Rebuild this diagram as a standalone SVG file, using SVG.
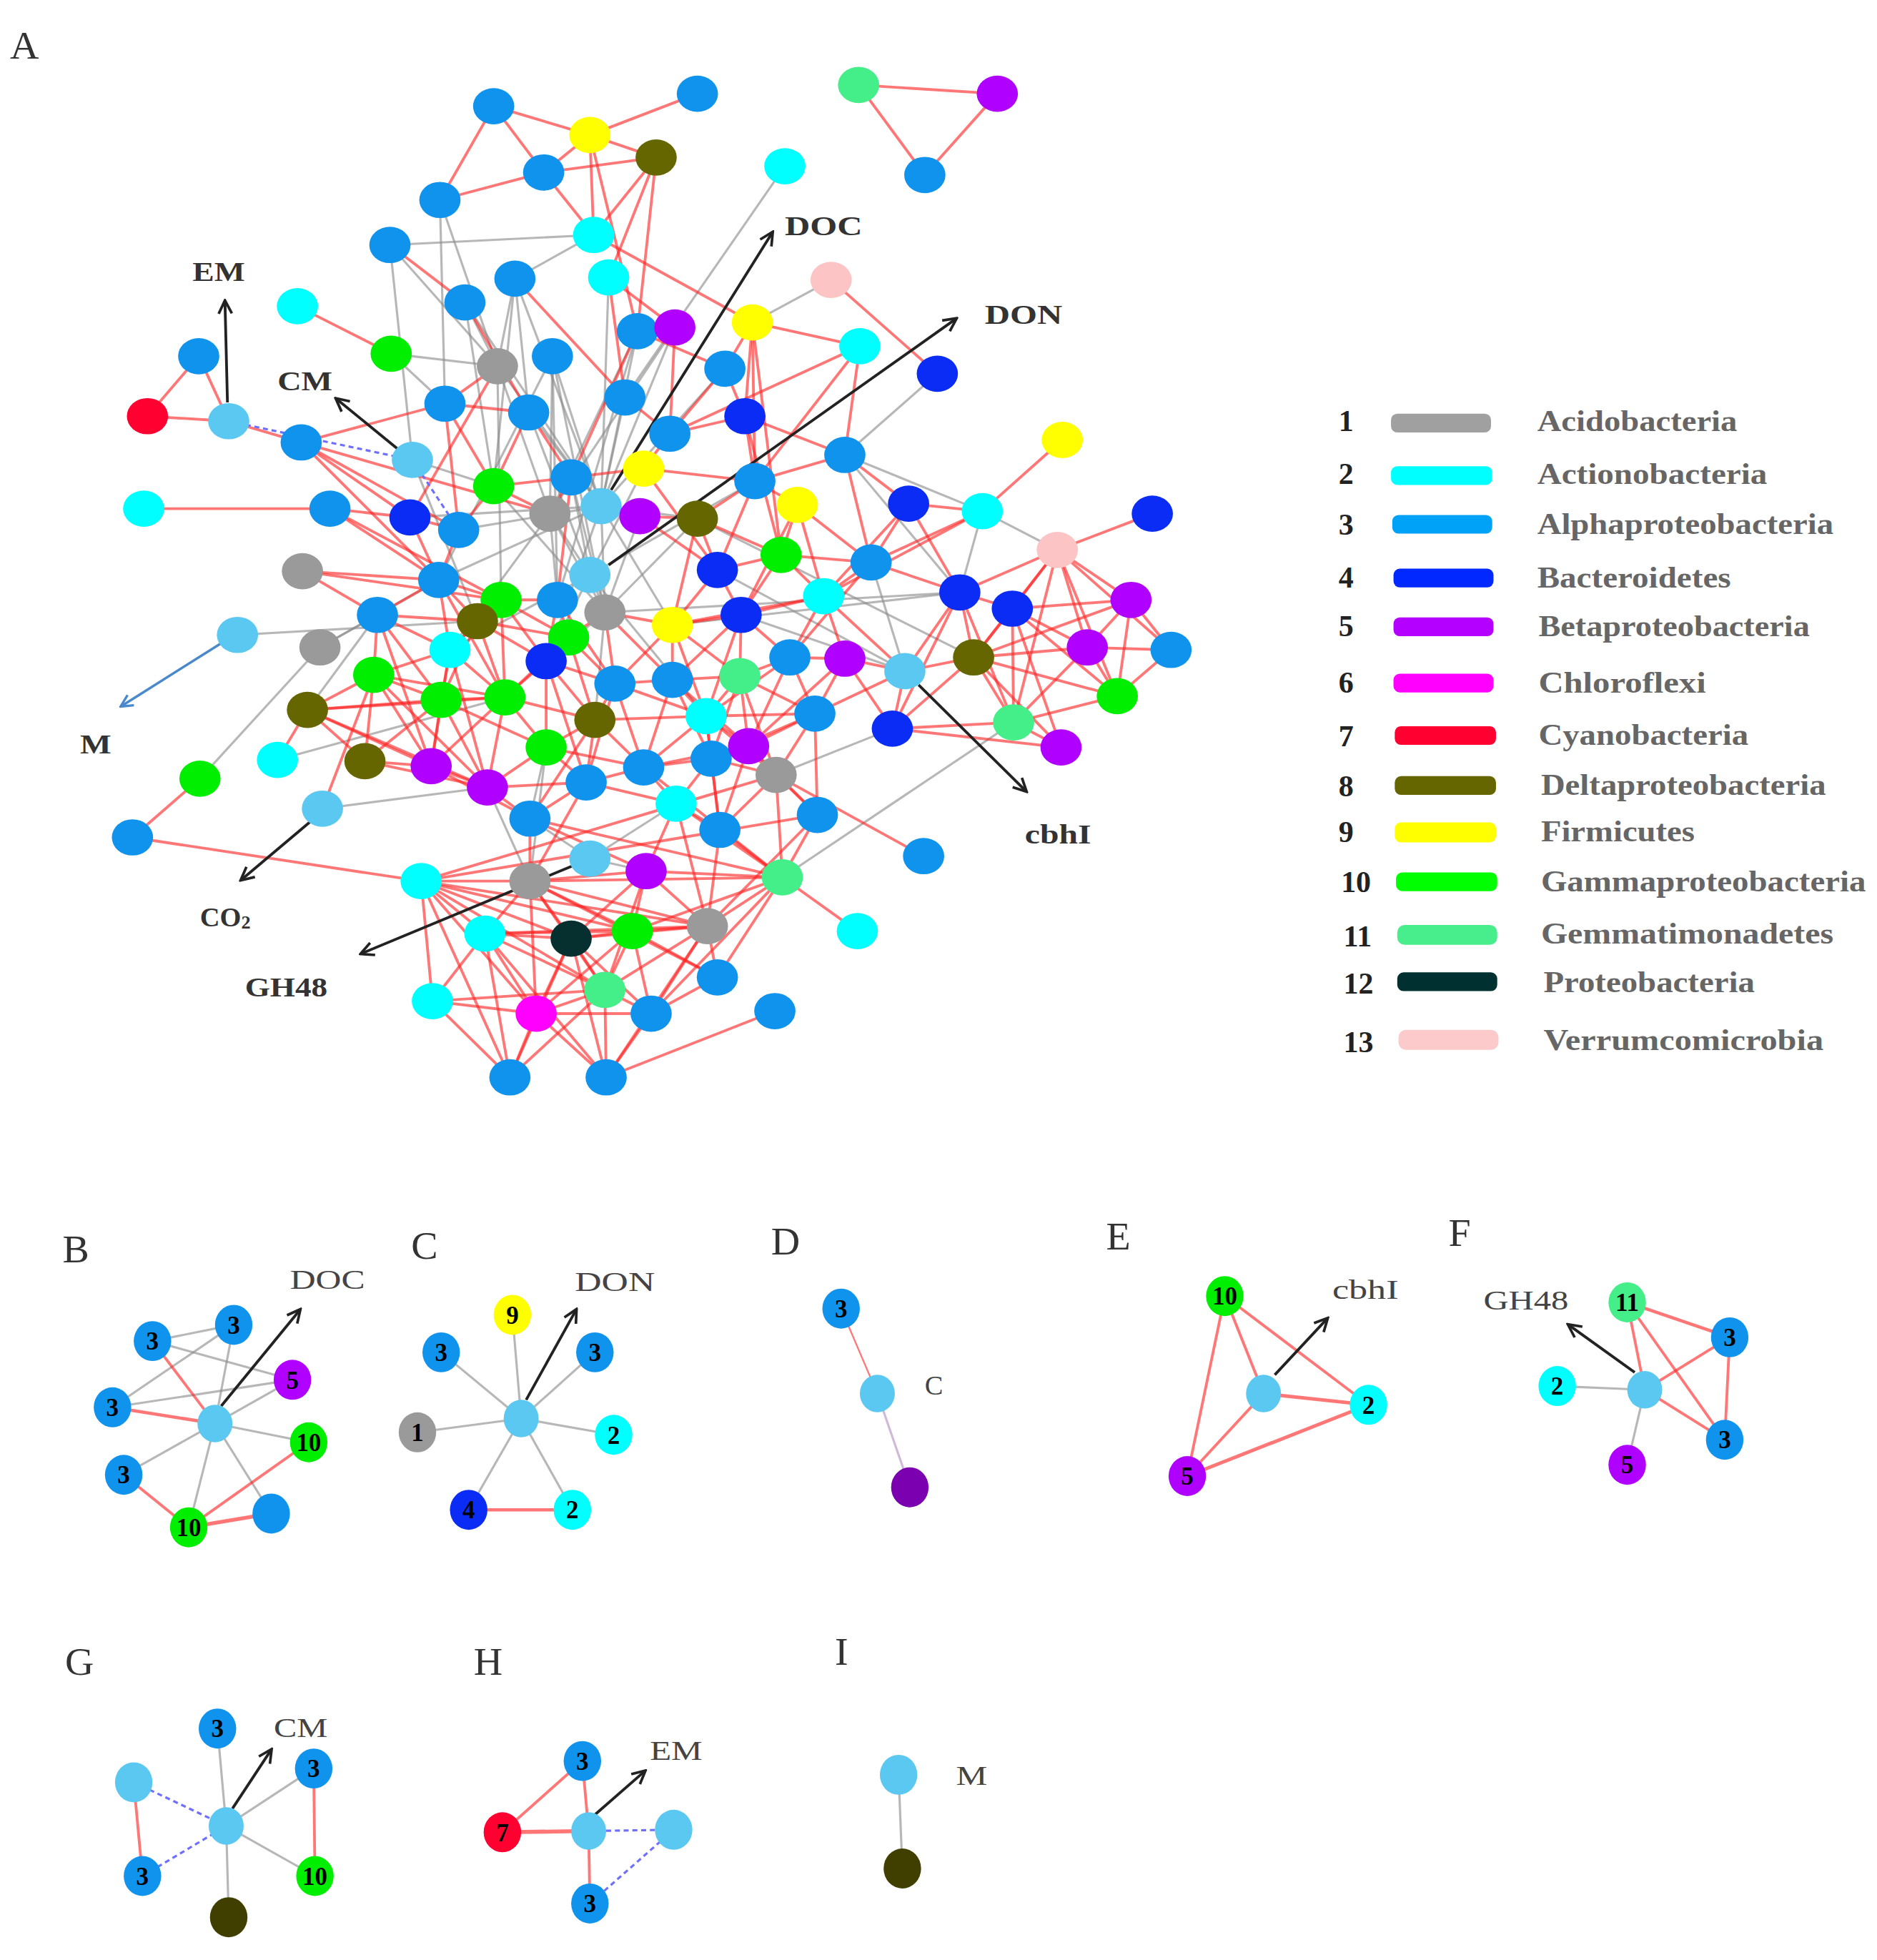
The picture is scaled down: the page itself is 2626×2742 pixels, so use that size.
<svg xmlns="http://www.w3.org/2000/svg" width="2626" height="2742" viewBox="0 0 2626 2742">
<defs>
<style>
.r{stroke:#ff2222;stroke-opacity:.62;stroke-width:2.2}
.g{stroke:#8a8a8a;stroke-opacity:.62;stroke-width:1.8}
.dsh{stroke:#6f6fff;stroke-width:1.8;stroke-dasharray:4 3}
.ar{stroke:#222;stroke-width:2.2;fill:none;marker-end:url(#ah)}
.arb{stroke:#4a88cc;stroke-width:2;fill:none;marker-end:url(#ahb)}
.A{fill:#0f93ec}.C{fill:#00ffff}.Y{fill:#ffff00}.D{fill:#666600}.DK{fill:#403f00}.V{fill:#fcc4c4}.G{fill:#00ee00}.Gr{fill:#9a9a9a}.Bc{fill:#0a2cf5}.B{fill:#b000ff}.Gm{fill:#44ee88}.R{fill:#ff0030}.H{fill:#5ac8f0}.P{fill:#063030}.Ch{fill:#ff00ff}.Pu{fill:#7a00b0}
.lbl{font-family:"Liberation Serif","DejaVu Serif",serif;fill:#333;font-weight:bold;font-size:22px}
.pl{font-family:"Liberation Serif","DejaVu Serif",serif;fill:#333;font-size:32px}
.sl{font-family:"Liberation Serif","DejaVu Serif",serif;fill:#444;font-size:22px}
.nl{font-family:"Liberation Serif","DejaVu Serif",serif;fill:#000;font-weight:bold;font-size:20px;text-anchor:middle}
.ln{font-family:"Liberation Serif","DejaVu Serif",serif;fill:#222;font-weight:bold;font-size:24px}
.lt{font-family:"Liberation Serif","DejaVu Serif",serif;fill:#666;font-weight:bold;font-size:24px}
</style>
<marker id="ah" viewBox="0 0 10 10" markerWidth="6" markerHeight="6" refX="8.5" refY="5" orient="auto"><path d="M1,1 L9,5 L1,9" fill="none" stroke="#222" stroke-width="1.6"/></marker>
<marker id="ahb" viewBox="0 0 10 10" markerWidth="6" markerHeight="6" refX="8.5" refY="5" orient="auto"><path d="M1,1 L9,5 L1,9" fill="none" stroke="#4a88cc" stroke-width="1.6"/></marker>
</defs>
<rect width="2626" height="2742" fill="#fff"/>
<g transform="scale(1.7485)">
<g id="connectors">
<g class="g">
<line x1="352" y1="160" x2="398" y2="293"/><line x1="352" y1="160" x2="356" y2="323"/><line x1="312" y1="196" x2="398" y2="293"/><line x1="312" y1="196" x2="330" y2="368"/><line x1="475" y1="188" x2="312" y2="196"/><line x1="475" y1="188" x2="412" y2="223"/><line x1="313" y1="283" x2="356" y2="323"/><line x1="313" y1="283" x2="398" y2="293"/><line x1="372" y1="242" x2="398" y2="293"/><line x1="412" y1="223" x2="423" y2="330"/><line x1="412" y1="223" x2="398" y2="293"/><line x1="412" y1="223" x2="395" y2="389"/><line x1="372" y1="242" x2="395" y2="389"/><line x1="628" y1="133" x2="500" y2="318"/><line x1="665" y1="224" x2="602" y2="258"/><line x1="750" y1="299" x2="676" y2="364"/><line x1="676" y1="364" x2="786" y2="409"/><line x1="786" y1="409" x2="846" y2="440"/><line x1="786" y1="409" x2="768" y2="474"/><line x1="676" y1="364" x2="768" y2="474"/>
<line x1="481" y1="405" x2="442" y2="285"/><line x1="481" y1="405" x2="510" y2="265"/><line x1="481" y1="405" x2="540" y2="262"/><line x1="481" y1="405" x2="500" y2="318"/><line x1="481" y1="405" x2="398" y2="293"/><line x1="481" y1="405" x2="423" y2="330"/><line x1="481" y1="405" x2="372" y2="242"/><line x1="481" y1="405" x2="412" y2="223"/><line x1="481" y1="405" x2="487" y2="222"/><line x1="481" y1="405" x2="580" y2="295"/><line x1="481" y1="405" x2="484" y2="490"/><line x1="481" y1="405" x2="351" y2="464"/><line x1="481" y1="405" x2="367" y2="424"/><line x1="481" y1="405" x2="558" y2="415"/><line x1="481" y1="405" x2="538" y2="500"/><line x1="481" y1="405" x2="328" y2="414"/><line x1="481" y1="405" x2="437" y2="529"/>
<line x1="472" y1="460" x2="515" y2="375"/><line x1="472" y1="460" x2="457" y2="382"/><line x1="472" y1="460" x2="440" y2="411"/><line x1="472" y1="460" x2="604" y2="385"/><line x1="472" y1="460" x2="360" y2="520"/><line x1="472" y1="460" x2="437" y2="529"/><line x1="472" y1="460" x2="565" y2="573"/>
<line x1="484" y1="490" x2="440" y2="411"/><line x1="484" y1="490" x2="512" y2="413"/><line x1="484" y1="490" x2="768" y2="474"/><line x1="484" y1="490" x2="558" y2="415"/><line x1="484" y1="490" x2="442" y2="285"/><line x1="484" y1="490" x2="423" y2="330"/><line x1="440" y1="411" x2="398" y2="293"/><line x1="440" y1="411" x2="442" y2="285"/><line x1="440" y1="411" x2="510" y2="265"/><line x1="440" y1="411" x2="446" y2="480"/><line x1="442" y1="285" x2="351" y2="464"/><line x1="442" y1="285" x2="446" y2="480"/><line x1="510" y1="265" x2="446" y2="480"/><line x1="540" y1="262" x2="440" y2="411"/><line x1="398" y1="293" x2="401" y2="480"/><line x1="395" y1="389" x2="484" y2="490"/><line x1="457" y1="382" x2="484" y2="490"/>
<line x1="190" y1="508" x2="382" y2="497"/><line x1="256" y1="518" x2="160" y2="623"/><line x1="256" y1="518" x2="302" y2="492"/><line x1="256" y1="518" x2="351" y2="464"/><line x1="246" y1="568" x2="302" y2="492"/><line x1="222" y1="608" x2="404" y2="558"/><line x1="258" y1="647" x2="390" y2="630"/><line x1="626" y1="702" x2="811" y2="578"/><line x1="538" y1="500" x2="768" y2="474"/><line x1="574" y1="456" x2="724" y2="537"/><line x1="558" y1="415" x2="779" y2="526"/><line x1="593" y1="492" x2="724" y2="537"/><line x1="697" y1="450" x2="724" y2="537"/><line x1="437" y1="598" x2="424" y2="655"/><line x1="424" y1="655" x2="472" y2="687"/><line x1="472" y1="687" x2="541" y2="643"/><line x1="472" y1="687" x2="517" y2="697"/><line x1="621" y1="620" x2="714" y2="583"/><line x1="330" y1="368" x2="395" y2="389"/><line x1="330" y1="368" x2="382" y2="497"/><line x1="437" y1="598" x2="424" y2="705"/><line x1="390" y1="630" x2="424" y2="705"/><line x1="484" y1="490" x2="437" y2="529"/><line x1="484" y1="490" x2="476" y2="576"/><line x1="440" y1="411" x2="360" y2="520"/>
</g>
<g class="r">
<line x1="395" y1="85" x2="472" y2="108"/><line x1="395" y1="85" x2="435" y2="138"/><line x1="395" y1="85" x2="352" y2="160"/><line x1="558" y1="75" x2="472" y2="108"/><line x1="472" y1="108" x2="435" y2="138"/><line x1="472" y1="108" x2="525" y2="126"/><line x1="525" y1="126" x2="435" y2="138"/><line x1="435" y1="138" x2="352" y2="160"/><line x1="472" y1="108" x2="475" y2="188"/><line x1="525" y1="126" x2="475" y2="188"/><line x1="525" y1="126" x2="487" y2="222"/><line x1="435" y1="138" x2="475" y2="188"/><line x1="472" y1="108" x2="510" y2="265"/><line x1="525" y1="126" x2="510" y2="265"/><line x1="312" y1="196" x2="372" y2="242"/><line x1="475" y1="188" x2="602" y2="258"/><line x1="487" y1="222" x2="540" y2="262"/><line x1="487" y1="222" x2="500" y2="318"/><line x1="372" y1="242" x2="423" y2="330"/><line x1="412" y1="223" x2="500" y2="318"/><line x1="238" y1="245" x2="313" y2="283"/>
<line x1="159" y1="285" x2="118" y2="333"/><line x1="159" y1="285" x2="183" y2="337"/><line x1="118" y1="333" x2="183" y2="337"/><line x1="183" y1="337" x2="241" y2="354"/><line x1="241" y1="354" x2="356" y2="323"/><line x1="241" y1="354" x2="328" y2="414"/><line x1="241" y1="354" x2="367" y2="424"/><line x1="241" y1="354" x2="351" y2="464"/><line x1="241" y1="354" x2="440" y2="411"/><line x1="115" y1="407" x2="264" y2="407"/><line x1="264" y1="407" x2="328" y2="414"/><line x1="264" y1="407" x2="351" y2="464"/><line x1="264" y1="407" x2="401" y2="480"/>
<line x1="665" y1="224" x2="750" y2="299"/><line x1="602" y1="258" x2="688" y2="277"/><line x1="602" y1="258" x2="596" y2="333"/><line x1="602" y1="258" x2="580" y2="295"/><line x1="602" y1="258" x2="625" y2="444"/><line x1="602" y1="258" x2="604" y2="385"/><line x1="688" y1="277" x2="604" y2="385"/><line x1="688" y1="277" x2="676" y2="364"/><line x1="688" y1="277" x2="536" y2="347"/><line x1="510" y1="265" x2="580" y2="295"/><line x1="510" y1="265" x2="457" y2="382"/><line x1="540" y1="262" x2="536" y2="347"/><line x1="580" y1="295" x2="536" y2="347"/><line x1="580" y1="295" x2="596" y2="333"/><line x1="500" y1="318" x2="536" y2="347"/><line x1="596" y1="333" x2="536" y2="347"/><line x1="596" y1="333" x2="676" y2="364"/><line x1="596" y1="333" x2="604" y2="385"/><line x1="596" y1="333" x2="625" y2="444"/>
<line x1="423" y1="330" x2="356" y2="323"/><line x1="423" y1="330" x2="395" y2="389"/><line x1="423" y1="330" x2="457" y2="382"/><line x1="356" y1="323" x2="395" y2="389"/><line x1="356" y1="323" x2="367" y2="424"/><line x1="398" y1="293" x2="356" y2="323"/><line x1="398" y1="293" x2="328" y2="414"/><line x1="676" y1="364" x2="727" y2="403"/><line x1="676" y1="364" x2="697" y2="450"/><line x1="676" y1="364" x2="604" y2="385"/><line x1="850" y1="352" x2="786" y2="409"/><line x1="727" y1="403" x2="786" y2="409"/><line x1="786" y1="409" x2="697" y2="450"/><line x1="786" y1="409" x2="659" y2="477"/><line x1="922" y1="411" x2="846" y2="440"/>
<line x1="846" y1="440" x2="768" y2="474"/><line x1="846" y1="440" x2="810" y2="487"/><line x1="846" y1="440" x2="905" y2="480"/><line x1="846" y1="440" x2="870" y2="518"/><line x1="846" y1="440" x2="894" y2="557"/><line x1="846" y1="440" x2="779" y2="526"/><line x1="846" y1="440" x2="811" y2="578"/><line x1="846" y1="440" x2="937" y2="520"/>
<line x1="515" y1="375" x2="604" y2="385"/><line x1="515" y1="375" x2="457" y2="382"/><line x1="515" y1="375" x2="536" y2="347"/><line x1="515" y1="375" x2="574" y2="456"/><line x1="512" y1="413" x2="558" y2="415"/><line x1="558" y1="415" x2="604" y2="385"/><line x1="558" y1="415" x2="625" y2="444"/><line x1="604" y1="385" x2="638" y2="404"/><line x1="638" y1="404" x2="625" y2="444"/><line x1="638" y1="404" x2="697" y2="450"/><line x1="638" y1="404" x2="593" y2="492"/><line x1="638" y1="404" x2="659" y2="477"/><line x1="625" y1="444" x2="574" y2="456"/><line x1="625" y1="444" x2="593" y2="492"/><line x1="625" y1="444" x2="697" y2="450"/><line x1="625" y1="444" x2="659" y2="477"/><line x1="574" y1="456" x2="593" y2="492"/><line x1="574" y1="456" x2="538" y2="500"/><line x1="697" y1="450" x2="659" y2="477"/><line x1="697" y1="450" x2="768" y2="474"/><line x1="697" y1="450" x2="632" y2="526"/><line x1="604" y1="385" x2="574" y2="456"/><line x1="727" y1="403" x2="697" y2="450"/><line x1="727" y1="403" x2="768" y2="474"/><line x1="727" y1="403" x2="659" y2="477"/><line x1="558" y1="415" x2="574" y2="456"/><line x1="512" y1="413" x2="574" y2="456"/><line x1="558" y1="415" x2="538" y2="500"/>
<line x1="768" y1="474" x2="810" y2="487"/><line x1="768" y1="474" x2="779" y2="526"/><line x1="768" y1="474" x2="724" y2="537"/><line x1="768" y1="474" x2="714" y2="583"/><line x1="768" y1="474" x2="811" y2="578"/><line x1="810" y1="487" x2="905" y2="480"/><line x1="810" y1="487" x2="779" y2="526"/><line x1="810" y1="487" x2="870" y2="518"/><line x1="810" y1="487" x2="811" y2="578"/><line x1="810" y1="487" x2="894" y2="557"/><line x1="905" y1="480" x2="870" y2="518"/><line x1="905" y1="480" x2="937" y2="520"/><line x1="905" y1="480" x2="894" y2="557"/><line x1="779" y1="526" x2="870" y2="518"/><line x1="779" y1="526" x2="894" y2="557"/><line x1="779" y1="526" x2="811" y2="578"/><line x1="779" y1="526" x2="849" y2="598"/><line x1="870" y1="518" x2="937" y2="520"/><line x1="870" y1="518" x2="894" y2="557"/><line x1="870" y1="518" x2="811" y2="578"/><line x1="937" y1="520" x2="894" y2="557"/><line x1="894" y1="557" x2="811" y2="578"/><line x1="811" y1="578" x2="849" y2="598"/><line x1="714" y1="583" x2="811" y2="578"/><line x1="714" y1="583" x2="849" y2="598"/><line x1="714" y1="583" x2="724" y2="537"/><line x1="714" y1="583" x2="676" y2="527"/><line x1="724" y1="537" x2="676" y2="527"/><line x1="724" y1="537" x2="652" y2="571"/><line x1="676" y1="527" x2="632" y2="526"/><line x1="676" y1="527" x2="652" y2="571"/><line x1="632" y1="526" x2="652" y2="571"/><line x1="632" y1="526" x2="593" y2="492"/><line x1="632" y1="526" x2="659" y2="477"/><line x1="676" y1="527" x2="659" y2="477"/><line x1="659" y1="477" x2="593" y2="492"/><line x1="659" y1="477" x2="538" y2="500"/><line x1="779" y1="526" x2="714" y2="583"/><line x1="779" y1="526" x2="724" y2="537"/><line x1="724" y1="537" x2="659" y2="477"/><line x1="810" y1="487" x2="849" y2="598"/><line x1="779" y1="526" x2="905" y2="480"/>
<line x1="328" y1="414" x2="367" y2="424"/><line x1="367" y1="424" x2="395" y2="389"/><line x1="367" y1="424" x2="351" y2="464"/><line x1="328" y1="414" x2="351" y2="464"/><line x1="395" y1="389" x2="457" y2="382"/><line x1="395" y1="389" x2="440" y2="411"/><line x1="457" y1="382" x2="440" y2="411"/><line x1="457" y1="382" x2="446" y2="480"/><line x1="351" y1="464" x2="401" y2="480"/><line x1="351" y1="464" x2="302" y2="492"/><line x1="351" y1="464" x2="382" y2="497"/><line x1="351" y1="464" x2="360" y2="520"/><line x1="242" y1="457" x2="401" y2="480"/><line x1="242" y1="457" x2="302" y2="492"/><line x1="242" y1="457" x2="351" y2="464"/><line x1="401" y1="480" x2="446" y2="480"/><line x1="401" y1="480" x2="382" y2="497"/><line x1="401" y1="480" x2="455" y2="510"/><line x1="401" y1="480" x2="360" y2="520"/><line x1="446" y1="480" x2="455" y2="510"/><line x1="446" y1="480" x2="437" y2="529"/><line x1="484" y1="490" x2="538" y2="500"/><line x1="484" y1="490" x2="492" y2="547"/><line x1="538" y1="500" x2="593" y2="492"/><line x1="538" y1="500" x2="538" y2="544"/><line x1="538" y1="500" x2="492" y2="547"/><line x1="593" y1="492" x2="592" y2="541"/><line x1="593" y1="492" x2="538" y2="544"/>
<line x1="302" y1="492" x2="382" y2="497"/><line x1="302" y1="492" x2="299" y2="540"/><line x1="302" y1="492" x2="360" y2="520"/><line x1="382" y1="497" x2="360" y2="520"/><line x1="382" y1="497" x2="455" y2="510"/><line x1="382" y1="497" x2="437" y2="529"/><line x1="455" y1="510" x2="437" y2="529"/><line x1="455" y1="510" x2="492" y2="547"/><line x1="360" y1="520" x2="299" y2="540"/><line x1="360" y1="520" x2="353" y2="560"/><line x1="360" y1="520" x2="404" y2="558"/><line x1="437" y1="529" x2="492" y2="547"/><line x1="437" y1="529" x2="404" y2="558"/><line x1="437" y1="529" x2="476" y2="576"/><line x1="492" y1="547" x2="538" y2="544"/><line x1="492" y1="547" x2="476" y2="576"/><line x1="492" y1="547" x2="565" y2="573"/><line x1="538" y1="544" x2="592" y2="541"/><line x1="538" y1="544" x2="565" y2="573"/><line x1="592" y1="541" x2="632" y2="526"/><line x1="592" y1="541" x2="565" y2="573"/><line x1="592" y1="541" x2="652" y2="571"/><line x1="592" y1="541" x2="569" y2="607"/><line x1="632" y1="526" x2="565" y2="573"/>
<line x1="299" y1="540" x2="246" y2="568"/><line x1="299" y1="540" x2="353" y2="560"/><line x1="299" y1="540" x2="404" y2="558"/><line x1="299" y1="540" x2="292" y2="609"/><line x1="299" y1="540" x2="345" y2="613"/><line x1="246" y1="568" x2="353" y2="560"/><line x1="246" y1="568" x2="404" y2="558"/><line x1="246" y1="568" x2="292" y2="609"/><line x1="246" y1="568" x2="222" y2="608"/><line x1="246" y1="568" x2="345" y2="613"/><line x1="353" y1="560" x2="404" y2="558"/><line x1="353" y1="560" x2="292" y2="609"/><line x1="353" y1="560" x2="345" y2="613"/><line x1="353" y1="560" x2="390" y2="630"/><line x1="404" y1="558" x2="476" y2="576"/><line x1="404" y1="558" x2="345" y2="613"/><line x1="404" y1="558" x2="390" y2="630"/><line x1="404" y1="558" x2="437" y2="598"/><line x1="476" y1="576" x2="437" y2="598"/><line x1="476" y1="576" x2="565" y2="573"/><line x1="476" y1="576" x2="469" y2="626"/><line x1="476" y1="576" x2="515" y2="614"/><line x1="565" y1="573" x2="515" y2="614"/><line x1="565" y1="573" x2="569" y2="607"/><line x1="565" y1="573" x2="599" y2="597"/><line x1="292" y1="609" x2="345" y2="613"/><line x1="345" y1="613" x2="390" y2="630"/><line x1="390" y1="630" x2="437" y2="598"/><line x1="390" y1="630" x2="424" y2="655"/><line x1="437" y1="598" x2="469" y2="626"/><line x1="437" y1="598" x2="515" y2="614"/><line x1="469" y1="626" x2="515" y2="614"/><line x1="469" y1="626" x2="424" y2="655"/><line x1="515" y1="614" x2="569" y2="607"/><line x1="569" y1="607" x2="599" y2="597"/><line x1="569" y1="607" x2="541" y2="643"/><line x1="599" y1="597" x2="621" y2="620"/><line x1="599" y1="597" x2="654" y2="652"/><line x1="515" y1="614" x2="541" y2="643"/><line x1="541" y1="643" x2="576" y2="664"/><line x1="576" y1="664" x2="599" y2="597"/><line x1="576" y1="664" x2="621" y2="620"/><line x1="541" y1="643" x2="517" y2="697"/><line x1="621" y1="620" x2="739" y2="685"/><line x1="621" y1="620" x2="654" y2="652"/><line x1="160" y1="623" x2="106" y2="670"/><line x1="106" y1="670" x2="337" y2="705"/><line x1="258" y1="647" x2="299" y2="540"/><line x1="455" y1="510" x2="476" y2="576"/><line x1="538" y1="544" x2="569" y2="607"/><line x1="565" y1="573" x2="652" y2="571"/><line x1="652" y1="571" x2="654" y2="652"/><line x1="652" y1="571" x2="621" y2="620"/><line x1="538" y1="500" x2="592" y2="541"/>
<line x1="351" y1="464" x2="404" y2="558"/><line x1="401" y1="480" x2="404" y2="558"/><line x1="401" y1="480" x2="437" y2="529"/><line x1="302" y1="492" x2="353" y2="560"/><line x1="302" y1="492" x2="345" y2="613"/><line x1="360" y1="520" x2="345" y2="613"/><line x1="360" y1="520" x2="390" y2="630"/><line x1="382" y1="497" x2="404" y2="558"/><line x1="382" y1="497" x2="353" y2="560"/><line x1="455" y1="510" x2="404" y2="558"/><line x1="437" y1="529" x2="437" y2="598"/><line x1="437" y1="529" x2="469" y2="626"/><line x1="492" y1="547" x2="469" y2="626"/><line x1="492" y1="547" x2="515" y2="614"/><line x1="538" y1="544" x2="515" y2="614"/><line x1="538" y1="544" x2="599" y2="597"/><line x1="592" y1="541" x2="599" y2="597"/><line x1="538" y1="500" x2="565" y2="573"/><line x1="593" y1="492" x2="565" y2="573"/><line x1="484" y1="490" x2="455" y2="510"/><line x1="484" y1="490" x2="538" y2="544"/><line x1="446" y1="480" x2="492" y2="547"/><line x1="292" y1="609" x2="390" y2="630"/><line x1="299" y1="540" x2="390" y2="630"/><line x1="246" y1="568" x2="390" y2="630"/><line x1="353" y1="560" x2="437" y2="598"/><line x1="345" y1="613" x2="424" y2="655"/><line x1="390" y1="630" x2="469" y2="626"/><line x1="476" y1="576" x2="424" y2="655"/><line x1="469" y1="626" x2="541" y2="643"/><line x1="515" y1="614" x2="599" y2="597"/><line x1="569" y1="607" x2="621" y2="620"/><line x1="569" y1="607" x2="576" y2="664"/><line x1="565" y1="573" x2="621" y2="620"/><line x1="565" y1="573" x2="576" y2="664"/><line x1="592" y1="541" x2="621" y2="620"/><line x1="632" y1="526" x2="599" y2="597"/><line x1="652" y1="571" x2="599" y2="597"/><line x1="652" y1="571" x2="569" y2="607"/><line x1="676" y1="527" x2="599" y2="597"/>
<line x1="337" y1="705" x2="388" y2="747"/><line x1="337" y1="705" x2="424" y2="705"/><line x1="337" y1="705" x2="457" y2="751"/><line x1="337" y1="705" x2="506" y2="745"/><line x1="337" y1="705" x2="566" y2="741"/><line x1="337" y1="705" x2="484" y2="792"/><line x1="337" y1="705" x2="346" y2="801"/><line x1="337" y1="705" x2="621" y2="620"/><line x1="337" y1="705" x2="654" y2="652"/><line x1="424" y1="705" x2="388" y2="747"/><line x1="424" y1="705" x2="457" y2="751"/><line x1="424" y1="705" x2="506" y2="745"/><line x1="424" y1="705" x2="566" y2="741"/><line x1="424" y1="705" x2="517" y2="697"/><line x1="424" y1="705" x2="626" y2="702"/><line x1="424" y1="705" x2="484" y2="792"/><line x1="388" y1="747" x2="457" y2="751"/><line x1="388" y1="747" x2="346" y2="801"/><line x1="388" y1="747" x2="429" y2="811"/><line x1="388" y1="747" x2="408" y2="862"/><line x1="388" y1="747" x2="484" y2="792"/><line x1="457" y1="751" x2="506" y2="745"/><line x1="457" y1="751" x2="429" y2="811"/><line x1="457" y1="751" x2="484" y2="792"/><line x1="457" y1="751" x2="408" y2="862"/><line x1="457" y1="751" x2="485" y2="862"/><line x1="457" y1="751" x2="566" y2="741"/><line x1="506" y1="745" x2="566" y2="741"/><line x1="506" y1="745" x2="484" y2="792"/><line x1="506" y1="745" x2="626" y2="702"/><line x1="506" y1="745" x2="574" y2="782"/><line x1="566" y1="741" x2="626" y2="702"/><line x1="566" y1="741" x2="574" y2="782"/><line x1="566" y1="741" x2="484" y2="792"/><line x1="517" y1="697" x2="626" y2="702"/><line x1="517" y1="697" x2="506" y2="745"/><line x1="517" y1="697" x2="566" y2="741"/><line x1="626" y1="702" x2="574" y2="782"/><line x1="626" y1="702" x2="686" y2="745"/><line x1="626" y1="702" x2="654" y2="652"/><line x1="626" y1="702" x2="424" y2="655"/><line x1="626" y1="702" x2="576" y2="664"/><line x1="346" y1="801" x2="429" y2="811"/><line x1="346" y1="801" x2="408" y2="862"/><line x1="346" y1="801" x2="484" y2="792"/><line x1="429" y1="811" x2="484" y2="792"/><line x1="429" y1="811" x2="521" y2="811"/><line x1="429" y1="811" x2="408" y2="862"/><line x1="429" y1="811" x2="485" y2="862"/><line x1="484" y1="792" x2="521" y2="811"/><line x1="484" y1="792" x2="408" y2="862"/><line x1="484" y1="792" x2="485" y2="862"/><line x1="521" y1="811" x2="485" y2="862"/><line x1="521" y1="811" x2="574" y2="782"/><line x1="521" y1="811" x2="566" y2="741"/><line x1="620" y1="809" x2="485" y2="862"/><line x1="388" y1="747" x2="485" y2="862"/><line x1="424" y1="655" x2="424" y2="705"/><line x1="424" y1="655" x2="517" y2="697"/><line x1="576" y1="664" x2="566" y2="741"/><line x1="654" y1="652" x2="566" y2="741"/><line x1="541" y1="643" x2="626" y2="702"/><line x1="621" y1="620" x2="626" y2="702"/><line x1="515" y1="614" x2="626" y2="702"/><line x1="408" y1="862" x2="337" y2="705"/>
<line x1="337" y1="705" x2="429" y2="811"/><line x1="388" y1="747" x2="506" y2="745"/><line x1="388" y1="747" x2="566" y2="741"/><line x1="424" y1="705" x2="429" y2="811"/><line x1="457" y1="751" x2="521" y2="811"/><line x1="506" y1="745" x2="521" y2="811"/><line x1="506" y1="745" x2="429" y2="811"/><line x1="566" y1="741" x2="485" y2="862"/><line x1="517" y1="697" x2="484" y2="792"/><line x1="517" y1="697" x2="457" y2="751"/><line x1="424" y1="705" x2="574" y2="782"/><line x1="626" y1="702" x2="521" y2="811"/><line x1="469" y1="626" x2="424" y2="705"/><line x1="541" y1="643" x2="566" y2="741"/>
<line x1="687" y1="68" x2="798" y2="75"/><line x1="687" y1="68" x2="740" y2="140"/><line x1="798" y1="75" x2="740" y2="140"/>
</g>
<g class="dsh"><line x1="183" y1="337" x2="330" y2="368"/><line x1="330" y1="368" x2="367" y2="424"/></g>
<g id="arrows-A">
<line class="ar" x1="182" y1="322" x2="180" y2="241"/>
<line class="ar" x1="318" y1="359" x2="269" y2="319"/>
<line class="ar" x1="489" y1="392" x2="618" y2="186"/>
<line class="ar" x1="487" y1="452" x2="765" y2="255"/>
<line class="ar" x1="735" y1="548" x2="821" y2="633"/>
<line class="ar" x1="250" y1="656" x2="193" y2="704"/>
<line class="ar" x1="460" y1="692" x2="289" y2="763"/>
<line class="arb" x1="178" y1="514" x2="97" y2="565"/>
</g>
</g>
<g id="nodes-A">
<g id="a1"><ellipse class="A" cx="395" cy="85" rx="16.5" ry="14.5"/></g>
<g id="a2"><ellipse class="A" cx="558" cy="75" rx="16.5" ry="14.5"/></g>
<g id="a3"><ellipse class="Y" cx="472" cy="108" rx="16.5" ry="14.5"/></g>
<g id="a4"><ellipse class="D" cx="525" cy="126" rx="16.5" ry="14.5"/></g>
<g id="a5"><ellipse class="A" cx="435" cy="138" rx="16.5" ry="14.5"/></g>
<g id="a6"><ellipse class="A" cx="352" cy="160" rx="16.5" ry="14.5"/></g>
<g id="a7"><ellipse class="C" cx="628" cy="133" rx="16.5" ry="14.5"/></g>
<g id="a8"><ellipse class="C" cx="475" cy="188" rx="16.5" ry="14.5"/></g>
<g id="a9"><ellipse class="C" cx="487" cy="222" rx="16.5" ry="14.5"/></g>
<g id="a10"><ellipse class="A" cx="312" cy="196" rx="16.5" ry="14.5"/></g>
<g id="a11"><ellipse class="V" cx="665" cy="224" rx="16.5" ry="14.5"/></g>
<g id="a12"><ellipse class="C" cx="238" cy="245" rx="16.5" ry="14.5"/></g>
<g id="a13"><ellipse class="A" cx="159" cy="285" rx="16.5" ry="14.5"/></g>
<g id="a14"><ellipse class="R" cx="118" cy="333" rx="16.5" ry="14.5"/></g>
<g id="a15"><ellipse class="H" cx="183" cy="337" rx="16.5" ry="14.5"/></g>
<g id="a16"><ellipse class="G" cx="313" cy="283" rx="16.5" ry="14.5"/></g>
<g id="a17"><ellipse class="A" cx="372" cy="242" rx="16.5" ry="14.5"/></g>
<g id="a18"><ellipse class="A" cx="412" cy="223" rx="16.5" ry="14.5"/></g>
<g id="a19"><ellipse class="Gr" cx="398" cy="293" rx="16.5" ry="14.5"/></g>
<g id="a20"><ellipse class="A" cx="442" cy="285" rx="16.5" ry="14.5"/></g>
<g id="a21"><ellipse class="A" cx="510" cy="265" rx="16.5" ry="14.5"/></g>
<g id="a22"><ellipse class="B" cx="540" cy="262" rx="16.5" ry="14.5"/></g>
<g id="a23"><ellipse class="Y" cx="602" cy="258" rx="16.5" ry="14.5"/></g>
<g id="a24"><ellipse class="C" cx="688" cy="277" rx="16.5" ry="14.5"/></g>
<g id="a25"><ellipse class="Bc" cx="750" cy="299" rx="16.5" ry="14.5"/></g>
<g id="a26"><ellipse class="A" cx="580" cy="295" rx="16.5" ry="14.5"/></g>
<g id="a27"><ellipse class="A" cx="500" cy="318" rx="16.5" ry="14.5"/></g>
<g id="a28"><ellipse class="Bc" cx="596" cy="333" rx="16.5" ry="14.5"/></g>
<g id="a29"><ellipse class="A" cx="536" cy="347" rx="16.5" ry="14.5"/></g>
<g id="a30"><ellipse class="A" cx="423" cy="330" rx="16.5" ry="14.5"/></g>
<g id="a31"><ellipse class="A" cx="356" cy="323" rx="16.5" ry="14.5"/></g>
<g id="a32"><ellipse class="A" cx="241" cy="354" rx="16.5" ry="14.5"/></g>
<g id="a33"><ellipse class="H" cx="330" cy="368" rx="16.5" ry="14.5"/></g>
<g id="a34"><ellipse class="A" cx="676" cy="364" rx="16.5" ry="14.5"/></g>
<g id="a35"><ellipse class="Y" cx="850" cy="352" rx="16.5" ry="14.5"/></g>
<g id="a36"><ellipse class="C" cx="115" cy="407" rx="16.5" ry="14.5"/></g>
<g id="a37"><ellipse class="A" cx="264" cy="407" rx="16.5" ry="14.5"/></g>
<g id="a38"><ellipse class="Bc" cx="328" cy="414" rx="16.5" ry="14.5"/></g>
<g id="a39"><ellipse class="A" cx="367" cy="424" rx="16.5" ry="14.5"/></g>
<g id="a40"><ellipse class="G" cx="395" cy="389" rx="16.5" ry="14.5"/></g>
<g id="a41"><ellipse class="A" cx="457" cy="382" rx="16.5" ry="14.5"/></g>
<g id="a42"><ellipse class="Gr" cx="440" cy="411" rx="16.5" ry="14.5"/></g>
<g id="a43"><ellipse class="H" cx="481" cy="405" rx="16.5" ry="14.5"/></g>
<g id="a44"><ellipse class="Y" cx="515" cy="375" rx="16.5" ry="14.5"/></g>
<g id="a45"><ellipse class="B" cx="512" cy="413" rx="16.5" ry="14.5"/></g>
<g id="a46"><ellipse class="D" cx="558" cy="415" rx="16.5" ry="14.5"/></g>
<g id="a47"><ellipse class="A" cx="604" cy="385" rx="16.5" ry="14.5"/></g>
<g id="a48"><ellipse class="Y" cx="638" cy="404" rx="16.5" ry="14.5"/></g>
<g id="a49"><ellipse class="Bc" cx="727" cy="403" rx="16.5" ry="14.5"/></g>
<g id="a50"><ellipse class="C" cx="786" cy="409" rx="16.5" ry="14.5"/></g>
<g id="a51"><ellipse class="Bc" cx="922" cy="411" rx="16.5" ry="14.5"/></g>
<g id="a52"><ellipse class="V" cx="846" cy="440" rx="16.5" ry="14.5"/></g>
<g id="a53"><ellipse class="G" cx="625" cy="444" rx="16.5" ry="14.5"/></g>
<g id="a54"><ellipse class="Bc" cx="574" cy="456" rx="16.5" ry="14.5"/></g>
<g id="a55"><ellipse class="A" cx="697" cy="450" rx="16.5" ry="14.5"/></g>
<g id="a56"><ellipse class="H" cx="472" cy="460" rx="16.5" ry="14.5"/></g>
<g id="a57"><ellipse class="A" cx="351" cy="464" rx="16.5" ry="14.5"/></g>
<g id="a58"><ellipse class="Gr" cx="242" cy="457" rx="16.5" ry="14.5"/></g>
<g id="a59"><ellipse class="G" cx="401" cy="480" rx="16.5" ry="14.5"/></g>
<g id="a60"><ellipse class="A" cx="446" cy="480" rx="16.5" ry="14.5"/></g>
<g id="a61"><ellipse class="Gr" cx="484" cy="490" rx="16.5" ry="14.5"/></g>
<g id="a62"><ellipse class="Y" cx="538" cy="500" rx="16.5" ry="14.5"/></g>
<g id="a63"><ellipse class="Bc" cx="593" cy="492" rx="16.5" ry="14.5"/></g>
<g id="a64"><ellipse class="C" cx="659" cy="477" rx="16.5" ry="14.5"/></g>
<g id="a65"><ellipse class="Bc" cx="768" cy="474" rx="16.5" ry="14.5"/></g>
<g id="a66"><ellipse class="Bc" cx="810" cy="487" rx="16.5" ry="14.5"/></g>
<g id="a67"><ellipse class="B" cx="905" cy="480" rx="16.5" ry="14.5"/></g>
<g id="a68"><ellipse class="H" cx="190" cy="508" rx="16.5" ry="14.5"/></g>
<g id="a69"><ellipse class="Gr" cx="256" cy="518" rx="16.5" ry="14.5"/></g>
<g id="a70"><ellipse class="A" cx="302" cy="492" rx="16.5" ry="14.5"/></g>
<g id="a71"><ellipse class="D" cx="382" cy="497" rx="16.5" ry="14.5"/></g>
<g id="a72"><ellipse class="G" cx="455" cy="510" rx="16.5" ry="14.5"/></g>
<g id="a73"><ellipse class="C" cx="360" cy="520" rx="16.5" ry="14.5"/></g>
<g id="a74"><ellipse class="Bc" cx="437" cy="529" rx="16.5" ry="14.5"/></g>
<g id="a75"><ellipse class="A" cx="492" cy="547" rx="16.5" ry="14.5"/></g>
<g id="a76"><ellipse class="A" cx="538" cy="544" rx="16.5" ry="14.5"/></g>
<g id="a77"><ellipse class="Gm" cx="592" cy="541" rx="16.5" ry="14.5"/></g>
<g id="a78"><ellipse class="A" cx="632" cy="526" rx="16.5" ry="14.5"/></g>
<g id="a79"><ellipse class="B" cx="676" cy="527" rx="16.5" ry="14.5"/></g>
<g id="a80"><ellipse class="H" cx="724" cy="537" rx="16.5" ry="14.5"/></g>
<g id="a81"><ellipse class="D" cx="779" cy="526" rx="16.5" ry="14.5"/></g>
<g id="a82"><ellipse class="B" cx="870" cy="518" rx="16.5" ry="14.5"/></g>
<g id="a83"><ellipse class="A" cx="937" cy="520" rx="16.5" ry="14.5"/></g>
<g id="a84"><ellipse class="G" cx="894" cy="557" rx="16.5" ry="14.5"/></g>
<g id="a85"><ellipse class="G" cx="299" cy="540" rx="16.5" ry="14.5"/></g>
<g id="a86"><ellipse class="D" cx="246" cy="568" rx="16.5" ry="14.5"/></g>
<g id="a87"><ellipse class="G" cx="353" cy="560" rx="16.5" ry="14.5"/></g>
<g id="a88"><ellipse class="G" cx="404" cy="558" rx="16.5" ry="14.5"/></g>
<g id="a89"><ellipse class="D" cx="476" cy="576" rx="16.5" ry="14.5"/></g>
<g id="a90"><ellipse class="C" cx="565" cy="573" rx="16.5" ry="14.5"/></g>
<g id="a91"><ellipse class="A" cx="652" cy="571" rx="16.5" ry="14.5"/></g>
<g id="a92"><ellipse class="Bc" cx="714" cy="583" rx="16.5" ry="14.5"/></g>
<g id="a93"><ellipse class="Gm" cx="811" cy="578" rx="16.5" ry="14.5"/></g>
<g id="a94"><ellipse class="B" cx="849" cy="598" rx="16.5" ry="14.5"/></g>
<g id="a95"><ellipse class="C" cx="222" cy="608" rx="16.5" ry="14.5"/></g>
<g id="a96"><ellipse class="D" cx="292" cy="609" rx="16.5" ry="14.5"/></g>
<g id="a97"><ellipse class="B" cx="345" cy="613" rx="16.5" ry="14.5"/></g>
<g id="a98"><ellipse class="B" cx="390" cy="630" rx="16.5" ry="14.5"/></g>
<g id="a99"><ellipse class="G" cx="437" cy="598" rx="16.5" ry="14.5"/></g>
<g id="a100"><ellipse class="A" cx="469" cy="626" rx="16.5" ry="14.5"/></g>
<g id="a101"><ellipse class="A" cx="515" cy="614" rx="16.5" ry="14.5"/></g>
<g id="a102"><ellipse class="A" cx="569" cy="607" rx="16.5" ry="14.5"/></g>
<g id="a103"><ellipse class="B" cx="599" cy="597" rx="16.5" ry="14.5"/></g>
<g id="a104"><ellipse class="Gr" cx="621" cy="620" rx="16.5" ry="14.5"/></g>
<g id="a105"><ellipse class="G" cx="160" cy="623" rx="16.5" ry="14.5"/></g>
<g id="a106"><ellipse class="H" cx="258" cy="647" rx="16.5" ry="14.5"/></g>
<g id="a107"><ellipse class="A" cx="106" cy="670" rx="16.5" ry="14.5"/></g>
<g id="a108"><ellipse class="A" cx="424" cy="655" rx="16.5" ry="14.5"/></g>
<g id="a109"><ellipse class="C" cx="541" cy="643" rx="16.5" ry="14.5"/></g>
<g id="a110"><ellipse class="A" cx="576" cy="664" rx="16.5" ry="14.5"/></g>
<g id="a111"><ellipse class="A" cx="654" cy="652" rx="16.5" ry="14.5"/></g>
<g id="a112"><ellipse class="A" cx="739" cy="685" rx="16.5" ry="14.5"/></g>
<g id="a113"><ellipse class="C" cx="337" cy="705" rx="16.5" ry="14.5"/></g>
<g id="a114"><ellipse class="Gr" cx="424" cy="705" rx="16.5" ry="14.5"/></g>
<g id="a115"><ellipse class="H" cx="472" cy="687" rx="16.5" ry="14.5"/></g>
<g id="a116"><ellipse class="B" cx="517" cy="697" rx="16.5" ry="14.5"/></g>
<g id="a117"><ellipse class="Gm" cx="626" cy="702" rx="16.5" ry="14.5"/></g>
<g id="a118"><ellipse class="C" cx="686" cy="745" rx="16.5" ry="14.5"/></g>
<g id="a119"><ellipse class="C" cx="388" cy="747" rx="16.5" ry="14.5"/></g>
<g id="a120"><ellipse class="P" cx="457" cy="751" rx="16.5" ry="14.5"/></g>
<g id="a121"><ellipse class="G" cx="506" cy="745" rx="16.5" ry="14.5"/></g>
<g id="a122"><ellipse class="Gr" cx="566" cy="741" rx="16.5" ry="14.5"/></g>
<g id="a123"><ellipse class="A" cx="574" cy="782" rx="16.5" ry="14.5"/></g>
<g id="a124"><ellipse class="C" cx="346" cy="801" rx="16.5" ry="14.5"/></g>
<g id="a125"><ellipse class="Ch" cx="429" cy="811" rx="16.5" ry="14.5"/></g>
<g id="a126"><ellipse class="Gm" cx="484" cy="792" rx="16.5" ry="14.5"/></g>
<g id="a127"><ellipse class="A" cx="521" cy="811" rx="16.5" ry="14.5"/></g>
<g id="a128"><ellipse class="A" cx="620" cy="809" rx="16.5" ry="14.5"/></g>
<g id="a129"><ellipse class="A" cx="408" cy="862" rx="16.5" ry="14.5"/></g>
<g id="a130"><ellipse class="A" cx="485" cy="862" rx="16.5" ry="14.5"/></g>
<g id="t1"><ellipse class="Gm" cx="687" cy="68" rx="16.5" ry="14.5"/></g>
<g id="t2"><ellipse class="B" cx="798" cy="75" rx="16.5" ry="14.5"/></g>
<g id="t3"><ellipse class="A" cx="740" cy="140" rx="16.5" ry="14.5"/></g>
</g>
<g id="labels-A">
<text class="pl" x="8" y="47">A</text>
<text class="lbl" x="154" y="225" textLength="42" lengthAdjust="spacingAndGlyphs">EM</text>
<text class="lbl" x="222" y="312" textLength="44" lengthAdjust="spacingAndGlyphs">CM</text>
<text class="lbl" x="628" y="188" textLength="62" lengthAdjust="spacingAndGlyphs">DOC</text>
<text class="lbl" x="788" y="259" textLength="62" lengthAdjust="spacingAndGlyphs">DON</text>
<text class="lbl" x="820" y="675" textLength="53" lengthAdjust="spacingAndGlyphs">cbhI</text>
<text class="lbl" x="64" y="603" textLength="25" lengthAdjust="spacingAndGlyphs">M</text>
<text class="lbl" x="160" y="741">CO<tspan font-size="15" dy="2">2</tspan></text>
<text class="lbl" x="196" y="797" textLength="66" lengthAdjust="spacingAndGlyphs">GH48</text>
</g>
<g id="legend">
<text class="ln" x="1071" y="345">1</text><rect x="1113" y="331" width="80" height="15" rx="5" fill="#a0a0a0"/><text class="lt" x="1230" y="345" textLength="160" lengthAdjust="spacingAndGlyphs">Acidobacteria</text>
<text class="ln" x="1071" y="387">2</text><rect x="1113" y="373" width="81" height="15" rx="5" fill="#00ffff"/><text class="lt" x="1230" y="387" textLength="184" lengthAdjust="spacingAndGlyphs">Actionobacteria</text>
<text class="ln" x="1071" y="428">3</text><rect x="1114" y="412" width="80" height="15" rx="5" fill="#00a2f8"/><text class="lt" x="1230" y="427" textLength="237" lengthAdjust="spacingAndGlyphs">Alphaproteobacteria</text>
<text class="ln" x="1071" y="470">4</text><rect x="1115" y="455" width="80" height="15" rx="5" fill="#0028ff"/><text class="lt" x="1230" y="470" textLength="155" lengthAdjust="spacingAndGlyphs">Bacteroidetes</text>
<text class="ln" x="1071" y="509">5</text><rect x="1115" y="494" width="80" height="15" rx="5" fill="#b400ff"/><text class="lt" x="1231" y="509" textLength="217" lengthAdjust="spacingAndGlyphs">Betaproteobacteria</text>
<text class="ln" x="1071" y="554">6</text><rect x="1115" y="539" width="80" height="15" rx="5" fill="#ff00ff"/><text class="lt" x="1231" y="554" textLength="134" lengthAdjust="spacingAndGlyphs">Chloroflexi</text>
<text class="ln" x="1071" y="597">7</text><rect x="1116" y="581" width="81" height="15" rx="5" fill="#ff0030"/><text class="lt" x="1231" y="596" textLength="168" lengthAdjust="spacingAndGlyphs">Cyanobacteria</text>
<text class="ln" x="1071" y="637">8</text><rect x="1116" y="621" width="81" height="15" rx="5" fill="#666600"/><text class="lt" x="1233" y="636" textLength="228" lengthAdjust="spacingAndGlyphs">Deltaproteobacteria</text>
<text class="ln" x="1071" y="674">9</text><rect x="1116" y="658" width="81" height="16" rx="5" fill="#ffff00"/><text class="lt" x="1233" y="673" textLength="123" lengthAdjust="spacingAndGlyphs">Firmicutes</text>
<text class="ln" x="1073" y="714">10</text><rect x="1117" y="698" width="81" height="15" rx="5" fill="#00ff00"/><text class="lt" x="1233" y="713" textLength="260" lengthAdjust="spacingAndGlyphs">Gammaproteobacteria</text>
<text class="ln" x="1075" y="757">11</text><rect x="1118" y="740" width="80" height="16" rx="6" fill="#48ee8c"/><text class="lt" x="1233" y="755" textLength="234" lengthAdjust="spacingAndGlyphs">Gemmatimonadetes</text>
<text class="ln" x="1075" y="795">12</text><rect x="1118" y="778" width="80" height="15" rx="5" fill="#003030"/><text class="lt" x="1235" y="794" textLength="169" lengthAdjust="spacingAndGlyphs">Proteobacteria</text>
<text class="ln" x="1075" y="842">13</text><rect x="1119" y="824" width="80" height="16" rx="6" fill="#fccaca"/><text class="lt" x="1235" y="840" textLength="224" lengthAdjust="spacingAndGlyphs">Verrumcomicrobia</text>
</g>
<g id="panels-small">
<text class="pl" x="50" y="1010">B</text>
<text class="pl" x="329" y="1007">C</text>
<text class="pl" x="617" y="1004">D</text>
<text class="pl" x="885" y="1000">E</text>
<text class="pl" x="1159" y="997">F</text>
<text class="pl" x="52" y="1340">G</text>
<text class="pl" x="379" y="1340">H</text>
<text class="pl" x="668" y="1332">I</text>
<g id="conn-small">
<g class="g">
<line x1="122" y1="1073" x2="187" y2="1060"/><line x1="122" y1="1073" x2="234" y2="1104"/><line x1="187" y1="1060" x2="90" y2="1126"/><line x1="90" y1="1126" x2="234" y2="1104"/><line x1="187" y1="1060" x2="172" y2="1139"/><line x1="172" y1="1139" x2="234" y2="1104"/><line x1="172" y1="1139" x2="247" y2="1154"/><line x1="172" y1="1139" x2="99" y2="1180"/><line x1="172" y1="1139" x2="151" y2="1222"/><line x1="172" y1="1139" x2="217" y2="1211"/>
<line x1="417" y1="1135" x2="410" y2="1052"/><line x1="417" y1="1135" x2="353" y2="1082"/><line x1="417" y1="1135" x2="476" y2="1082"/><line x1="417" y1="1135" x2="334" y2="1146"/><line x1="417" y1="1135" x2="491" y2="1148"/><line x1="417" y1="1135" x2="375" y2="1208"/><line x1="417" y1="1135" x2="458" y2="1208"/>
<line x1="702" y1="1115" x2="728" y2="1190" style="stroke:#b090c0"/>
<line x1="1316" y1="1112" x2="1246" y2="1109"/><line x1="1316" y1="1112" x2="1302" y2="1172"/>
<line x1="181" y1="1461" x2="174" y2="1383"/><line x1="181" y1="1461" x2="251" y2="1415"/><line x1="181" y1="1461" x2="252" y2="1501"/><line x1="181" y1="1461" x2="183" y2="1534"/>
<line x1="719" y1="1420" x2="722" y2="1495"/>
</g>
<g class="r">
<line x1="122" y1="1073" x2="172" y2="1139"/><line x1="90" y1="1126" x2="172" y2="1139" style="stroke-width:2.6"/><line x1="99" y1="1180" x2="151" y2="1222"/><line x1="151" y1="1222" x2="247" y2="1154"/><line x1="151" y1="1222" x2="217" y2="1211" style="stroke-width:3"/>
<line x1="375" y1="1208" x2="458" y2="1208" style="stroke-width:2.6"/>
<line x1="673" y1="1047" x2="702" y2="1115" style="stroke-width:1.3"/>
<line x1="980" y1="1037" x2="1011" y2="1115"/><line x1="980" y1="1037" x2="1095" y2="1124"/><line x1="980" y1="1037" x2="950" y2="1181"/><line x1="1011" y1="1115" x2="1095" y2="1124" style="stroke-width:2.8"/><line x1="1011" y1="1115" x2="950" y2="1181"/><line x1="950" y1="1181" x2="1095" y2="1124" style="stroke-width:2.8"/>
<line x1="1302" y1="1042" x2="1384" y2="1070" style="stroke-width:2.6"/><line x1="1302" y1="1042" x2="1316" y2="1112"/><line x1="1302" y1="1042" x2="1380" y2="1152"/><line x1="1384" y1="1070" x2="1380" y2="1152"/><line x1="1384" y1="1070" x2="1316" y2="1112"/><line x1="1316" y1="1112" x2="1380" y2="1152"/>
<line x1="107" y1="1426" x2="114" y2="1501"/><line x1="251" y1="1415" x2="252" y2="1501"/>
<line x1="466" y1="1409" x2="402" y2="1466"/><line x1="466" y1="1409" x2="471" y2="1465"/><line x1="402" y1="1466" x2="471" y2="1465" style="stroke-width:3.2"/><line x1="471" y1="1465" x2="472" y2="1523"/>
</g>
<g class="dsh">
<line x1="107" y1="1426" x2="181" y2="1461"/><line x1="114" y1="1501" x2="181" y2="1461"/>
<line x1="471" y1="1465" x2="539" y2="1464"/><line x1="539" y1="1464" x2="472" y2="1523"/>
</g>
<line class="ar" x1="177" y1="1125" x2="240" y2="1048"/>
<line class="ar" x1="421" y1="1120" x2="461" y2="1048"/>
<line class="ar" x1="1020" y1="1100" x2="1062" y2="1055"/>
<line class="ar" x1="1308" y1="1098" x2="1255" y2="1060"/>
<line class="ar" x1="186" y1="1447" x2="217" y2="1400"/>
<line class="ar" x1="476" y1="1452" x2="516" y2="1417"/>
</g>
<g id="B-hub"><ellipse class="H" cx="172" cy="1139" rx="14" ry="15"/></g>
<g id="b1"><ellipse class="A" cx="122" cy="1073" rx="15" ry="16"/><text class="nl" x="122" y="1080">3</text></g>
<g id="b2"><ellipse class="A" cx="187" cy="1060" rx="15" ry="16"/><text class="nl" x="187" y="1067">3</text></g>
<g id="b3"><ellipse class="A" cx="90" cy="1126" rx="15" ry="16"/><text class="nl" x="90" y="1133">3</text></g>
<g id="b4"><ellipse class="B" cx="234" cy="1104" rx="15" ry="16"/><text class="nl" x="234" y="1111">5</text></g>
<g id="b5"><ellipse class="G" cx="247" cy="1154" rx="15" ry="16"/><text class="nl" x="247" y="1161">10</text></g>
<g id="b6"><ellipse class="A" cx="99" cy="1180" rx="15" ry="16"/><text class="nl" x="99" y="1187">3</text></g>
<g id="b7"><ellipse class="G" cx="151" cy="1222" rx="15" ry="16"/><text class="nl" x="151" y="1229">10</text></g>
<g id="b8"><ellipse class="A" cx="217" cy="1211" rx="15" ry="16"/></g>
<text class="sl" x="232" y="1031" textLength="60" lengthAdjust="spacingAndGlyphs">DOC</text>
<g id="C-hub"><ellipse class="H" cx="417" cy="1135" rx="14" ry="15"/></g>
<g id="c1"><ellipse class="Y" cx="410" cy="1052" rx="15" ry="16"/><text class="nl" x="410" y="1059">9</text></g>
<g id="c2"><ellipse class="A" cx="353" cy="1082" rx="15" ry="16"/><text class="nl" x="353" y="1089">3</text></g>
<g id="c3"><ellipse class="A" cx="476" cy="1082" rx="15" ry="16"/><text class="nl" x="476" y="1089">3</text></g>
<g id="c4"><ellipse class="Gr" cx="334" cy="1146" rx="15" ry="16"/><text class="nl" x="334" y="1153">1</text></g>
<g id="c5"><ellipse class="C" cx="491" cy="1148" rx="15" ry="16"/><text class="nl" x="491" y="1155">2</text></g>
<g id="c6"><ellipse class="Bc" cx="375" cy="1208" rx="15" ry="16"/><text class="nl" x="375" y="1215">4</text></g>
<g id="c7"><ellipse class="C" cx="458" cy="1208" rx="15" ry="16"/><text class="nl" x="458" y="1215">2</text></g>
<text class="sl" x="460" y="1033" textLength="64" lengthAdjust="spacingAndGlyphs">DON</text>
<g id="d1"><ellipse class="A" cx="673" cy="1047" rx="15" ry="16"/><text class="nl" x="673" y="1054">3</text></g>
<g id="D-hub"><ellipse class="H" cx="702" cy="1115" rx="14" ry="15"/></g>
<g id="d2"><ellipse class="Pu" cx="728" cy="1190" rx="15" ry="16"/></g>
<text class="sl" x="740" y="1116">C</text>
<g id="e1"><ellipse class="G" cx="980" cy="1037" rx="15" ry="16"/><text class="nl" x="980" y="1044">10</text></g>
<g id="E-hub"><ellipse class="H" cx="1011" cy="1115" rx="14" ry="15"/></g>
<g id="e2"><ellipse class="C" cx="1095" cy="1124" rx="15" ry="16"/><text class="nl" x="1095" y="1131">2</text></g>
<g id="e3"><ellipse class="B" cx="950" cy="1181" rx="15" ry="16"/><text class="nl" x="950" y="1188">5</text></g>
<text class="sl" x="1066" y="1039" textLength="53" lengthAdjust="spacingAndGlyphs">cbhI</text>
<g id="f1"><ellipse class="Gm" cx="1302" cy="1042" rx="15" ry="16"/><text class="nl" x="1302" y="1049">11</text></g>
<g id="f2"><ellipse class="A" cx="1384" cy="1070" rx="15" ry="16"/><text class="nl" x="1384" y="1077">3</text></g>
<g id="f3"><ellipse class="C" cx="1246" cy="1109" rx="15" ry="16"/><text class="nl" x="1246" y="1116">2</text></g>
<g id="F-hub"><ellipse class="H" cx="1316" cy="1112" rx="14" ry="15"/></g>
<g id="f4"><ellipse class="A" cx="1380" cy="1152" rx="15" ry="16"/><text class="nl" x="1380" y="1159">3</text></g>
<g id="f5"><ellipse class="B" cx="1302" cy="1172" rx="15" ry="16"/><text class="nl" x="1302" y="1179">5</text></g>
<text class="sl" x="1187" y="1048" textLength="68" lengthAdjust="spacingAndGlyphs">GH48</text>
<g id="G-hub"><ellipse class="H" cx="181" cy="1461" rx="14" ry="15"/></g>
<g id="g1"><ellipse class="A" cx="174" cy="1383" rx="15" ry="16"/><text class="nl" x="174" y="1390">3</text></g>
<g id="g2"><ellipse class="A" cx="251" cy="1415" rx="15" ry="16"/><text class="nl" x="251" y="1422">3</text></g>
<g id="g3"><ellipse class="H" cx="107" cy="1426" rx="15" ry="16"/></g>
<g id="g4"><ellipse class="A" cx="114" cy="1501" rx="15" ry="16"/><text class="nl" x="114" y="1508">3</text></g>
<g id="g5"><ellipse class="G" cx="252" cy="1501" rx="15" ry="16"/><text class="nl" x="252" y="1508">10</text></g>
<g id="g6"><ellipse class="DK" cx="183" cy="1534" rx="15" ry="16"/></g>
<text class="sl" x="219" y="1390" textLength="43" lengthAdjust="spacingAndGlyphs">CM</text>
<g id="H-hub"><ellipse class="H" cx="471" cy="1465" rx="14" ry="15"/></g>
<g id="h1"><ellipse class="A" cx="466" cy="1409" rx="15" ry="16"/><text class="nl" x="466" y="1416">3</text></g>
<g id="h2"><ellipse class="R" cx="402" cy="1466" rx="15" ry="16"/><text class="nl" x="402" y="1473">7</text></g>
<g id="h3"><ellipse class="H" cx="539" cy="1464" rx="15" ry="16"/></g>
<g id="h4"><ellipse class="A" cx="472" cy="1523" rx="15" ry="16"/><text class="nl" x="472" y="1530">3</text></g>
<text class="sl" x="520" y="1408" textLength="42" lengthAdjust="spacingAndGlyphs">EM</text>
<g id="i1"><ellipse class="H" cx="719" cy="1420" rx="15" ry="16"/></g>
<g id="i2"><ellipse class="DK" cx="722" cy="1495" rx="15" ry="16"/></g>
<text class="sl" x="765" y="1428" textLength="25" lengthAdjust="spacingAndGlyphs">M</text>
</g>
</g>
</svg>
